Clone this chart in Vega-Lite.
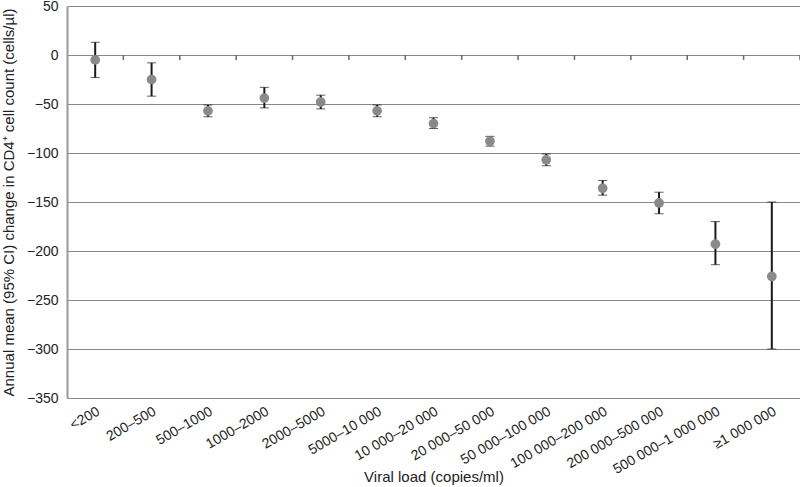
{
  "$schema": "https://vega.github.io/schema/vega-lite/v6.json",
  "width": 733,
  "height": 392,
  "autosize": {"type": "none"},
  "padding": {"left": 67, "top": 6, "right": 0, "bottom": 89},
  "background": "white",
  "config": {
    "view": {"stroke": null},
    "font": "Liberation Sans",
    "axis": {"labelFont": "Liberation Sans", "titleFont": "Liberation Sans", "labelColor": "#222", "titleColor": "#222", "labelFontSize": 14, "titleFontSize": 15, "titleFontWeight": "normal"}
  },
  "data": {
    "values": [
      {"load": "<200", "mean": -5, "lo": -23, "hi": 13},
      {"load": "200–500", "mean": -25, "lo": -42, "hi": -8},
      {"load": "500–1000", "mean": -57, "lo": -63, "hi": -51},
      {"load": "1000–2000", "mean": -44, "lo": -54, "hi": -33},
      {"load": "2000–5000", "mean": -48, "lo": -55, "hi": -41},
      {"load": "5000–10 000", "mean": -57, "lo": -63, "hi": -51},
      {"load": "10 000–20 000", "mean": -70, "lo": -75, "hi": -64},
      {"load": "20 000–50 000", "mean": -88, "lo": -93, "hi": -83},
      {"load": "50 000–100 000", "mean": -107, "lo": -113, "hi": -101},
      {"load": "100 000–200 000", "mean": -136, "lo": -143, "hi": -128},
      {"load": "200 000–500 000", "mean": -151, "lo": -162, "hi": -140},
      {"load": "500 000–1 000 000", "mean": -193, "lo": -214, "hi": -170},
      {"load": "≥1 000 000", "mean": -226, "lo": -300, "hi": -150}
    ]
  },
  "encoding": {
    "x": {
      "field": "load", "type": "nominal", "sort": null,
      "scale": {"paddingInner": 0, "paddingOuter": 0},
      "title": "Viral load (copies/ml)",
      "axis": {"labelAngle": -30, "ticks": false, "domain": false, "grid": false, "labelPadding": 6, "titleY": 71, "titleBaseline": "top"}
    }
  },
  "layer": [
    {
      "mark": {"type": "errorbar", "ticks": {"size": 9, "color": "#1a1a1a", "strokeWidth": 2}, "rule": {"color": "#1a1a1a", "strokeWidth": 2}},
      "encoding": {
        "y": {
          "field": "lo", "type": "quantitative",
          "scale": {"domain": [-350, 50], "nice": false, "zero": false},
          "title": "Annual mean (95% CI) change in CD4⁺ cell count (cells/µl)",
          "axis": {"values": [50, 0, -50, -100, -150, -200, -250, -300, -350], "ticks": false, "labelPadding": 9, "domainColor": "#999", "domainWidth": 2, "grid": true, "gridColor": "#888", "gridWidth": 1.2, "gridOpacity": 1, "titlePadding": 10}
        },
        "y2": {"field": "hi"}
      }
    },
    {
      "mark": {"type": "circle", "size": 95, "color": "#8a8a8a", "opacity": 1},
      "encoding": {
        "y": {"field": "mean", "type": "quantitative"}
      }
    },
    {
      "mark": {"type": "rule", "color": "#666", "strokeWidth": 1.5},
      "encoding": {
        "x": {"field": "load", "type": "nominal", "sort": null, "bandPosition": 1},
        "y": {"datum": 0, "type": "quantitative"},
        "y2": {"datum": -5}
      }
    }
  ]
}
